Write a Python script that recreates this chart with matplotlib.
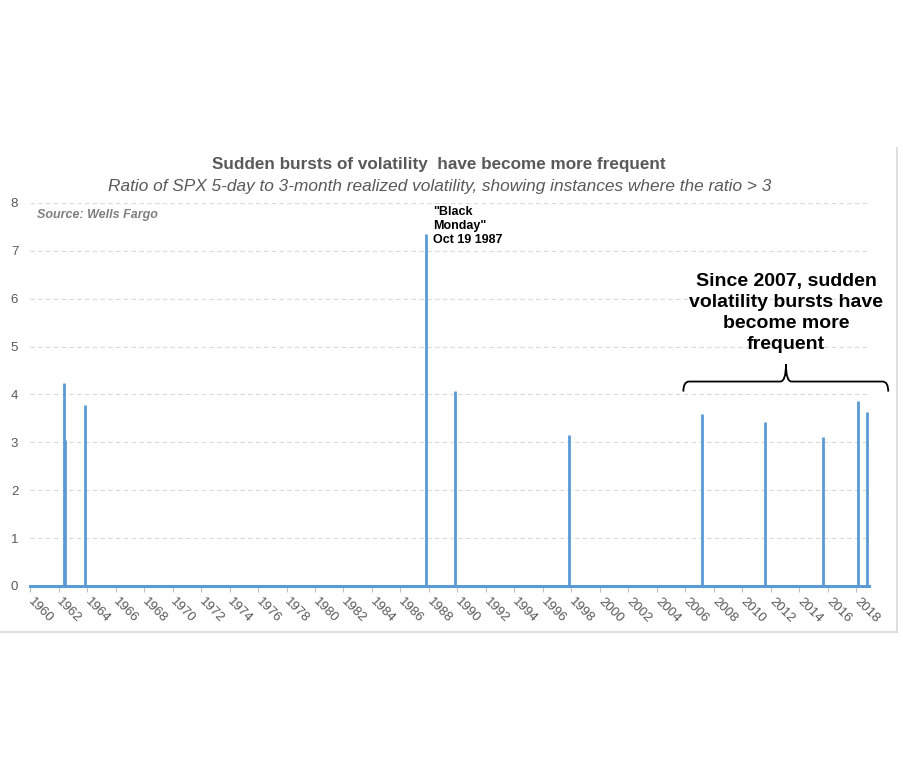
import matplotlib.pyplot as plt
from matplotlib.path import Path
from matplotlib.patches import PathPatch
from matplotlib.lines import Line2D

# Episodes where 5-day / 3-month realized vol ratio > 3 (fractional year, ratio)
event_years = [1962.38, 1962.47, 1963.88, 1987.80, 1989.79, 1997.82,
               2007.16, 2011.60, 2015.65, 2018.10, 2018.74]
event_ratio = [4.25, 3.05, 3.79, 7.35, 4.07, 3.15,
               3.59, 3.42, 3.12, 3.87, 3.64]

tick_years = list(range(1960, 2019, 2))
y_ticks = [0, 1, 2, 3, 4, 5, 6, 7, 8]

blue = '#5B9BD5'
grey_txt = '#595959'

plt.rcParams['font.family'] = ['Liberation Sans', 'DejaVu Sans']

fig = plt.figure(figsize=(9.04, 7.70), dpi=100)
ax = fig.add_axes([0.0332, 0.2390, 0.9281, 0.4974])

x_end = 2018.88
ax.set_xlim(1960, x_end)
ax.set_ylim(0, 8)

# baseline (zero values) and the spikes
ax.axhline(0, color=blue, lw=2.2, zorder=4, clip_on=False)
ax.vlines(event_years, 0, event_ratio, color=blue, lw=2.0, zorder=3)

# grid
ax.set_yticks(y_ticks)
ax.grid(axis='y', color='#D9D9D9', linestyle=(0, (4, 3)), lw=0.8)
ax.set_axisbelow(True)
for s in ax.spines.values():
    s.set_visible(False)

ax.tick_params(axis='y', length=0, pad=8.5, labelsize=9.5, labelcolor=grey_txt)
ax.set_xticks(tick_years)
ax.set_xticklabels([str(y) for y in tick_years], rotation=-45, ha='left',
                   va='center', rotation_mode='anchor')
ax.tick_params(axis='x', length=4, color='#BFBFBF', width=0.8, pad=6,
               labelsize=9.5, labelcolor=grey_txt)

# titles
fig.text(0.485, 0.786, 'Sudden bursts of volatility  have become more frequent',
         ha='center', va='center', fontsize=12.3, fontweight='bold', color=grey_txt)
fig.text(0.486, 0.758, 'Ratio of SPX 5-day to 3-month realized volatility, '
         'showing instances where the ratio > 3',
         ha='center', va='center', fontsize=12.4, style='italic', color=grey_txt)
ax.text(1960.5, 7.74, 'Source: Wells Fargo', ha='left', va='center',
        fontsize=9, fontweight='bold', style='italic', color='#7F7F7F')

# annotations
ax.text(1988.3, 7.93, '"Black\nMonday"\nOct 19 1987', ha='left', va='top',
        fontsize=9, fontweight='bold', color='black', linespacing=1.2)
ax.text(2013.05, 5.70, 'Since 2007, sudden\nvolatility bursts have\nbecome more\nfrequent',
        ha='center', va='center', fontsize=14, fontweight='bold', color='black',
        linespacing=1.32)

# curly brace
xl, xm, xr = 2005.85, 2013.05, 2020.23
yb, yh, yt = 4.06, 4.27, 4.63
verts = [(xl, yb), (xl, yh), (xl + 0.4, yh),
         (xm - 0.4, yh), (xm, yh), (xm, yt),
         (xm, yh), (xm + 0.4, yh),
         (xr - 0.4, yh), (xr, yh), (xr, yb)]
codes = [Path.MOVETO, Path.CURVE3, Path.CURVE3,
         Path.LINETO, Path.CURVE3, Path.CURVE3,
         Path.CURVE3, Path.CURVE3,
         Path.LINETO, Path.CURVE3, Path.CURVE3]
ax.add_patch(PathPatch(Path(verts, codes), fill=False, lw=1.3, color='black',
                       clip_on=False))

# outer frame remnants
fig.add_artist(Line2D([0.9923, 0.9923], [0.8078, 0.1792], color='#D9D9D9', lw=1.2))
fig.add_artist(Line2D([0, 0.9923], [0.1792, 0.1792], color='#D9D9D9', lw=1.2))

fig.savefig('out.png', dpi=100)
